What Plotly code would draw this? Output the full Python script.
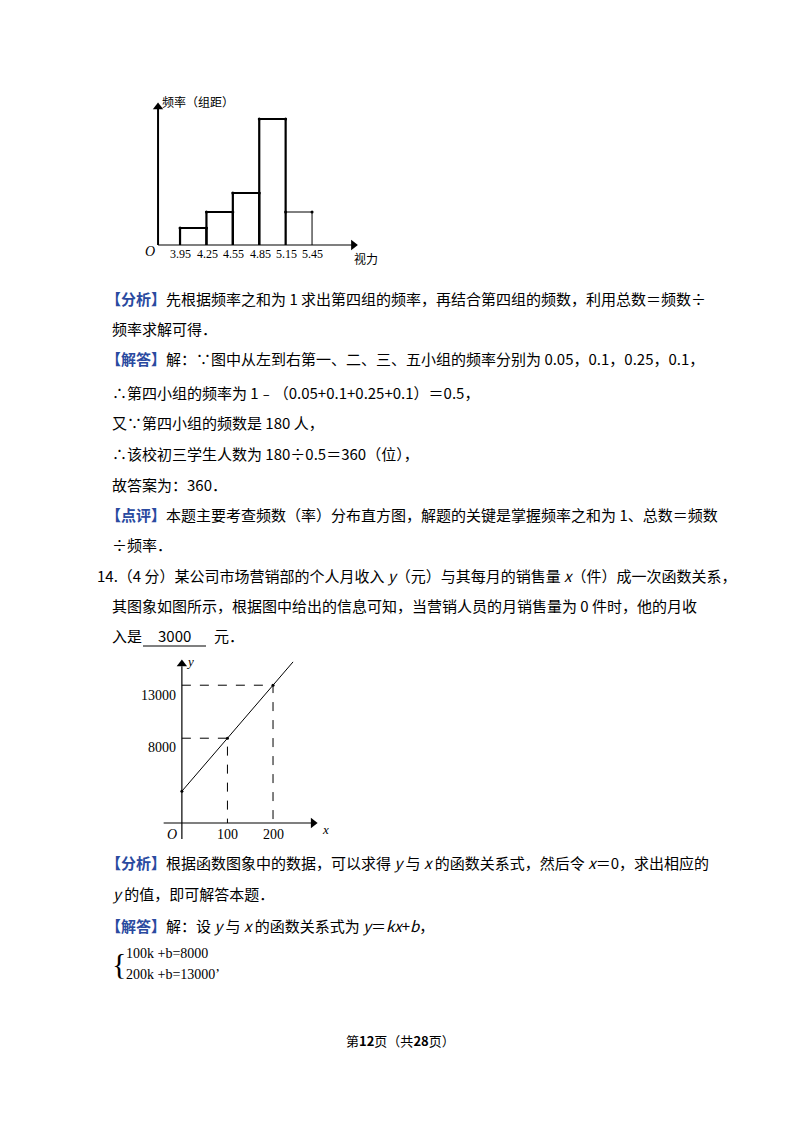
import plotly.graph_objects as go

W, H = 800, 1132
OFF = 8  # page body margin in the written html

# histogram data (frequency / class width)
hist_edges = [3.95, 4.25, 4.55, 4.85, 5.15, 5.45]
hist_heights = [0.17, 0.33, 0.52, 1.26, 0.33]
hist_ticks = ["3.95", "4.25", "4.55", "4.85", "5.15", "5.45"]

# linear function data
line_x = [0, 100, 200, 244]
line_y = [3000, 8000, 13000, 15200]
known_x = [100, 200]
known_y = [8000, 13000]


def px(x):
    return (x - OFF) / W


def py(y):
    return 1 - (y - OFF) / H


fig = go.Figure()
font = "Noto Sans CJK SC, Liberation Serif"
blue = "#2a4aa0"

# ---------- histogram ----------
for i, h in enumerate(hist_heights):
    a, b = hist_edges[i], hist_edges[i + 1]
    w = 2.2 if i < 4 else 1
    fig.add_trace(go.Scatter(x=[a, a, b, b], y=[0, h, h, 0], mode="lines",
                             line=dict(color="black", width=w), xaxis="x", yaxis="y"))
    fig.add_trace(go.Scatter(x=[a, b], y=[h, h], mode="markers",
                             marker=dict(color="black", size=3), xaxis="x", yaxis="y"))
fig.add_trace(go.Scatter(x=[3.70, 5.92], y=[0, 0], mode="lines",
                         line=dict(color="black", width=1.2), xaxis="x", yaxis="y"))
fig.add_trace(go.Scatter(x=[5.92], y=[0], mode="markers",
                         marker=dict(symbol="triangle-right", size=9, color="black"), xaxis="x", yaxis="y"))
fig.add_trace(go.Scatter(x=[3.70, 3.70], y=[0, 1.36], mode="lines",
                         line=dict(color="black", width=2), xaxis="x", yaxis="y"))
fig.add_trace(go.Scatter(x=[3.70], y=[1.38], mode="markers",
                         marker=dict(symbol="triangle-up", size=9, color="black"), xaxis="x", yaxis="y"))

# ---------- line chart ----------
fig.add_trace(go.Scatter(x=line_x, y=line_y, mode="lines",
                         line=dict(color="black", width=1), xaxis="x2", yaxis="y2"))
for kx, ky in zip(known_x, known_y):
    fig.add_trace(go.Scatter(x=[0, kx, kx], y=[ky, ky, 0], mode="lines",
                             line=dict(color="black", width=1, dash="dash"), xaxis="x2", yaxis="y2"))
fig.add_trace(go.Scatter(x=[0] + known_x, y=[line_y[0]] + known_y, mode="markers",
                         marker=dict(color="black", size=3), xaxis="x2", yaxis="y2"))
fig.add_trace(go.Scatter(x=[-40, 285], y=[0, 0], mode="lines",
                         line=dict(color="black", width=1.2), xaxis="x2", yaxis="y2"))
fig.add_trace(go.Scatter(x=[288], y=[0], mode="markers",
                         marker=dict(symbol="triangle-right", size=9, color="black"), xaxis="x2", yaxis="y2"))
fig.add_trace(go.Scatter(x=[0, 0], y=[-1500, 14800], mode="lines",
                         line=dict(color="black", width=1.2), xaxis="x2", yaxis="y2"))
fig.add_trace(go.Scatter(x=[0], y=[15000], mode="markers",
                         marker=dict(symbol="triangle-up", size=9, color="black"), xaxis="x2", yaxis="y2"))

ax = dict(visible=False, fixedrange=True)
fig.update_layout(
    width=W, height=H, margin=dict(l=0, r=0, t=0, b=0),
    paper_bgcolor="white", plot_bgcolor="rgba(0,0,0,0)", showlegend=False,
    xaxis=dict(ax, domain=[px(140), px(360)], range=[3.495, 5.995]),
    yaxis=dict(ax, domain=[py(260), py(100)], range=[-0.15, 1.45]),
    xaxis2=dict(ax, domain=[px(160), px(335)], range=[-48, 336], anchor="y2"),
    yaxis2=dict(ax, domain=[py(845), py(655)], range=[-2075, 15850], anchor="x2"),
)

ann = []


def txt(x, y, s, size=15, anchor="left", fam=font):
    ann.append(dict(x=px(x), y=py(y), xref="paper", yref="paper", text=s, showarrow=False,
                    xanchor=anchor, yanchor="middle", font=dict(family=fam, size=size, color="black")))


serif = "Liberation Serif"
# histogram labels
txt(160, 101, "频率（组距）", 12)
txt(150, 252, "<i>O</i>", 14, "center", serif)
for t, xv in zip(hist_ticks, [180, 207, 233, 260, 286, 312]):
    txt(xv, 254, t, 12, "center", serif)
txt(352, 258, "视力", 12)

B = lambda s: f"<span style='color:{blue}'><b>【{s}】</b></span>"
txt(104, 298, B("分析") + "先根据频率之和为 1 求出第四组的频率，再结合第四组的频数，利用总数＝频数÷")
txt(110, 328, "频率求解可得．")
txt(104, 358, B("解答") + "解：∵图中从左到右第一、二、三、五小组的频率分别为 0.05，0.1，0.25，0.1，")
txt(110, 393, "∴第四小组的频率为 1﹣（0.05+0.1+0.25+0.1）＝0.5，")
txt(110, 423, "又∵第四小组的频数是 180 人，")
txt(110, 453, "∴该校初三学生人数为 180÷0.5＝360（位），")
txt(110, 484, "故答案为：360．")
txt(104, 514, B("点评") + "本题主要考查频数（率）分布直方图，解题的关键是掌握频率之和为 1、总数＝频数")
txt(110, 544, "÷频率．")
txt(95, 575, "14.（4 分）某公司市场营销部的个人月收入 <i>y</i>（元）与其每月的销售量 <i>x</i>（件）成一次函数关系，")
txt(110, 605, "其图象如图所示，根据图中给出的信息可知，当营销人员的月销售量为 0 件时，他的月收")
txt(110, 636, "入是")
txt(174, 636, "3000", 15, "center")
txt(212, 636, "元．")

# line chart labels
txt(190, 661, "<i>y</i>", 13, "center", serif)
txt(158, 695, "13000", 14, "center", serif)
txt(162, 747, "8000", 14, "center", serif)
txt(172, 834, "<i>O</i>", 14, "center", serif)
txt(227, 834, "100", 14, "center", serif)
txt(273, 834, "200", 14, "center", serif)
txt(325, 829, "<i>x</i>", 13, "center", serif)

txt(104, 862, B("分析") + "根据函数图象中的数据，可以求得 <i>y</i> 与 <i>x</i> 的函数关系式，然后令 <i>x</i>＝0，求出相应的")
txt(110, 893, "<i>y</i> 的值，即可解答本题．")
txt(104, 925, B("解答") + "解：设 <i>y</i> 与 <i>x</i> 的函数关系式为 <i>y</i>＝<i>kx</i>+<i>b</i>，")
txt(110, 963, "{", 30, "left", serif)
txt(124, 953, "100k +b=8000", 14, "left", serif)
txt(124, 974, "200k +b=13000’", 14, "left", serif)
txt(400, 1040, "第<b>12</b>页（共<b>28</b>页）", 13, "center")

fig.update_layout(annotations=ann)
fig.add_shape(type="line", xref="paper", yref="paper", x0=px(143), x1=px(206),
              y0=py(646), y1=py(646), line=dict(color="black", width=1))

fig.write_html("out.html")
